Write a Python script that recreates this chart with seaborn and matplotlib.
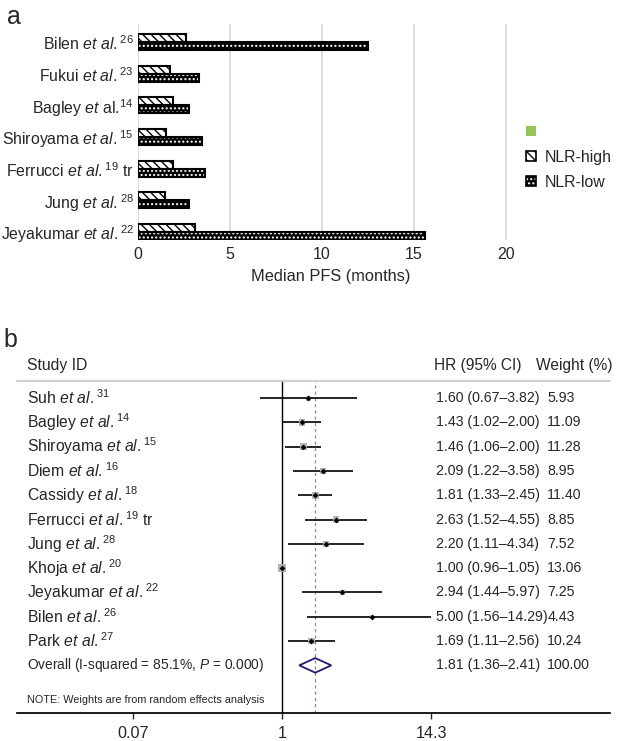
import numpy as np
import pandas as pd
import seaborn as sns
import matplotlib.pyplot as plt
from matplotlib.patches import Patch
from matplotlib.ticker import NullLocator
import matplotlib.transforms as mtransforms

# panel a: median PFS by NLR group
studies_a = [
    r"Bilen $\it{et\ al.}$$^{26}$",
    r"Fukui $\it{et\ al.}$$^{23}$",
    r"Bagley $\it{et}$ al.$^{14}$",
    r"Shiroyama $\it{et\ al.}$$^{15}$",
    r"Ferrucci $\it{et\ al.}$$^{19}$ tr",
    r"Jung $\it{et\ al.}$$^{28}$",
    r"Jeyakumar $\it{et\ al.}$$^{22}$",
]
pfs_high = [2.6, 1.75, 1.9, 1.55, 1.9, 1.45, 3.1]
pfs_low = [12.5, 3.3, 2.8, 3.5, 3.65, 2.8, 15.6]
groups = ["NLR-high", "NLR-low"]

# panel b: forest plot
studies_b = [
    r"Suh $\it{et\ al.}$$^{31}$",
    r"Bagley $\it{et\ al.}$$^{14}$",
    r"Shiroyama $\it{et\ al.}$$^{15}$",
    r"Diem $\it{et\ al.}$$^{16}$",
    r"Cassidy $\it{et\ al.}$$^{18}$",
    r"Ferrucci $\it{et\ al.}$$^{19}$ tr",
    r"Jung $\it{et\ al.}$$^{28}$",
    r"Khoja $\it{et\ al.}$$^{20}$",
    r"Jeyakumar $\it{et\ al.}$$^{22}$",
    r"Bilen $\it{et\ al.}$$^{26}$",
    r"Park $\it{et\ al.}$$^{27}$",
]
hr = [1.60, 1.43, 1.46, 2.09, 1.81, 2.63, 2.20, 1.00, 2.94, 5.00, 1.69]
ci_lo = [0.67, 1.02, 1.06, 1.22, 1.33, 1.52, 1.11, 0.96, 1.44, 1.56, 1.11]
ci_hi = [3.82, 2.00, 2.00, 3.58, 2.45, 4.55, 4.34, 1.05, 5.97, 14.29, 2.56]
weights = [5.93, 11.09, 11.28, 8.95, 11.40, 8.85, 7.52, 13.06, 7.25, 4.43, 10.24]
overall = (1.81, 1.36, 2.41)
overall_label = r"Overall (I-squared = 85.1%, $\it{P}$ = 0.000)"
forest_ticks = [0.07, 1, 14.3]

sns.set_theme(style="white")
plt.rcParams["font.family"] = ["Liberation Sans", "DejaVu Sans"]
plt.rcParams["mathtext.fontset"] = "custom"
plt.rcParams["mathtext.rm"] = "Liberation Sans"
plt.rcParams["mathtext.it"] = "Liberation Sans:italic"
plt.rcParams["hatch.linewidth"] = 1.0

W, H = 620, 741
fig = plt.figure(figsize=(W / 100, H / 100), dpi=100)


def box(l, t, r, b):
    return [l / W, 1 - b / H, (r - l) / W, (b - t) / H]


# ---------- panel a ----------
ax = fig.add_axes(box(138, 24, 524, 240))
df = pd.DataFrame({
    "study": studies_a * 2,
    "pfs": pfs_high + pfs_low,
    "group": [groups[0]] * len(studies_a) + [groups[1]] * len(studies_a),
})
sns.barplot(data=df, x="pfs", y="study", hue="group", hue_order=groups, orient="h",
            palette={"NLR-high": "white", "NLR-low": "black"}, width=0.5,
            legend=False, ax=ax, zorder=2)
for p in ax.containers[0]:
    p.set_hatch("\\\\\\\\")
    p.set_edgecolor("black")
for p in ax.containers[1]:
    p.set_hatch("....")
    p.set_edgecolor("white")
for c in ax.containers:
    for p in c:
        p.set_linewidth(0)
# outlines
sns.barplot(data=df, x="pfs", y="study", hue="group", hue_order=groups, orient="h",
            palette={"NLR-high": "black", "NLR-low": "black"}, width=0.5, fill=False,
            linewidth=1.5, legend=False, ax=ax, zorder=3)

ax.set_xlim(0, 21)
ax.set_ylim(6.25, -0.57)
ax.set_xticks([0, 5, 10, 15, 20])
ax.xaxis.grid(True, color="#d9d9d9", lw=1.3, zorder=0)
ax.set_axisbelow(True)
for s in ax.spines.values():
    s.set_visible(False)
ax.tick_params(length=0)
ax.tick_params(axis="x", pad=5, labelsize=11.5)
ax.tick_params(axis="y", pad=3, labelsize=11.4)
ax.set_ylabel("")
ax.set_xlabel("Median PFS (months)", fontsize=11.8, labelpad=5)

handles = [
    Patch(facecolor="#98c25a", edgecolor="none"),
    (Patch(facecolor="white", edgecolor="black", hatch="\\\\\\\\", lw=0),
     Patch(fill=False, edgecolor="black", lw=1.2)),
    (Patch(facecolor="black", edgecolor="white", hatch="....", lw=0),
     Patch(fill=False, edgecolor="black", lw=1.2)),
]
fig.legend(handles, ["", "NLR-high", "NLR-low"], loc="upper left",
           bbox_to_anchor=(512 / W, 1 - 110 / H), frameon=False, fontsize=11.4,
           handlelength=0.6, handleheight=0.6, handletextpad=0.6, labelspacing=0.65)

fig.text(7 / W, 1 - 17 / H, "a", fontsize=18, va="center")

# ---------- panel b ----------
ax2 = fig.add_axes(box(17, 381, 610, 713))
ax2.set_xscale("log")
ax2.set_xlim(10 ** ((17 - 282) / 129), 10 ** ((610 - 282) / 129))
rows = np.arange(len(studies_b))
ov_row = len(studies_b)
ax2.set_ylim(12.96, -0.7)

ax2.axvline(1, color="black", lw=1, zorder=1)
ax2.axvline(overall[0], color="#c4707c", lw=0.9, ls=(0, (2.5, 2.5)), zorder=1)

ax2.hlines(rows, ci_lo, ci_hi, color="black", lw=1.2, zorder=2)
ax2.scatter(hr, rows, s=[2.2 * w for w in weights], marker="s",
            color="#b5b5b5", linewidths=0, zorder=3)
sns.scatterplot(x=hr, y=rows, color="black", s=9, marker="D", linewidth=0,
                ax=ax2, zorder=4, legend=False)

o_hr, o_lo, o_hi = overall
ax2.fill([o_lo, o_hr, o_hi, o_hr], [ov_row, ov_row - 0.3, ov_row, ov_row + 0.3],
         facecolor="none", edgecolor="#1c1c70", lw=1.3, zorder=3)

tr = mtransforms.blended_transform_factory(ax2.transAxes, ax2.transData)
hr_texts = [f"{h:.2f} ({l:.2f}\u2013{u:.2f})" for h, l, u in zip(hr, ci_lo, ci_hi)]
for i, lab in enumerate(studies_b):
    ax2.text(0.017, rows[i], lab, transform=tr, va="center", fontsize=11.3)
    ax2.text(0.706, rows[i], hr_texts[i], transform=tr, va="center", fontsize=10.2)
    ax2.text(0.894, rows[i], f"{weights[i]:.2f}", transform=tr, va="center", fontsize=10.2)
ax2.text(0.017, ov_row, overall_label, transform=tr, va="center", fontsize=9.9)
ax2.text(0.706, ov_row, f"{o_hr:.2f} ({o_lo:.2f}\u2013{o_hi:.2f})", transform=tr,
         va="center", fontsize=10.2)
ax2.text(0.894, ov_row, "100.00", transform=tr, va="center", fontsize=10.2)
ax2.text(0.017, 12.43, "NOTE: Weights are from random effects analysis", transform=tr,
         va="center", fontsize=7.8)

ax2.text(0.017, -1.32, "Study ID", transform=tr, va="center", fontsize=11.3, clip_on=False)
ax2.text(0.704, -1.32, "HR (95% CI)", transform=tr, va="center", fontsize=11.2, clip_on=False)
ax2.text(0.876, -1.32, "Weight (%)", transform=tr, va="center", fontsize=11.2, clip_on=False)

for s in ["left", "right"]:
    ax2.spines[s].set_visible(False)
ax2.spines["top"].set_color("#c8c8c8")
ax2.spines["bottom"].set_color("black")
ax2.set_xticks(forest_ticks)
ax2.set_xticklabels([str(t) for t in forest_ticks])
ax2.xaxis.set_minor_locator(NullLocator())
ax2.set_yticks([])
ax2.tick_params(axis="x", direction="out", length=4, width=1, labelsize=11.6, pad=5,
                bottom=True)

fig.text(3 / W, 1 - 340 / H, "b", fontsize=18, va="center")

fig.savefig("out.png", dpi=100)
